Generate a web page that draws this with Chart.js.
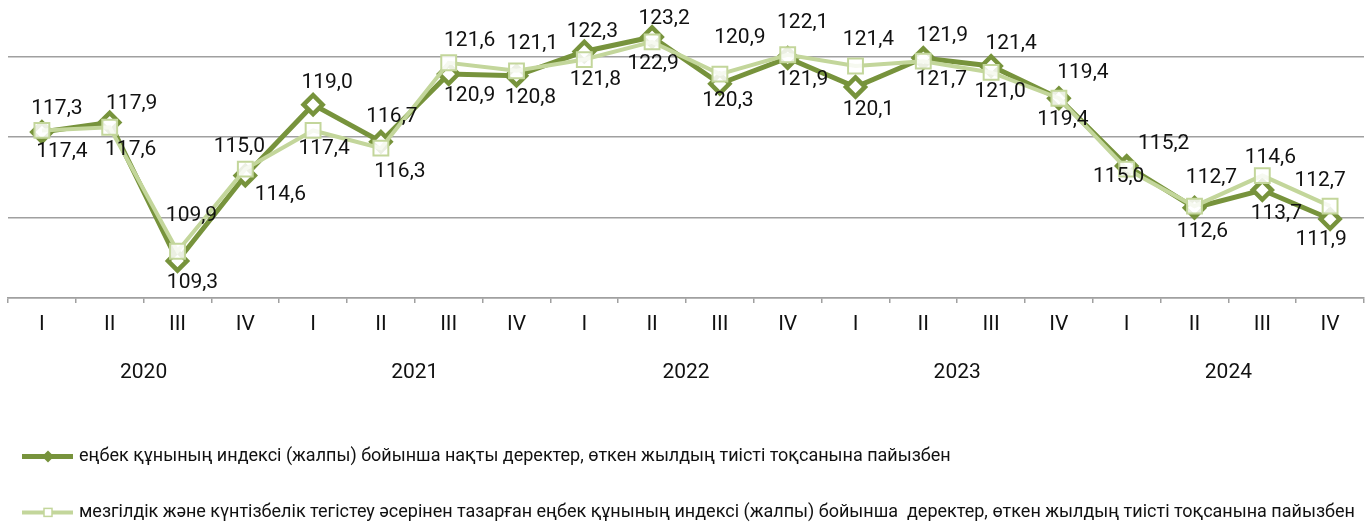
<!DOCTYPE html>
<html>
<head>
<meta charset="utf-8">
<script src="https://cdn.jsdelivr.net/npm/chart.js@4.4.0/dist/chart.umd.min.js"></script>
<style>
  html, body { margin: 0; padding: 0; background: #fff; }
  #wrap { width: 1369px; height: 523px; }
</style>
</head>
<body>
<div id="wrap"><canvas id="chart"></canvas></div>
<script>
const quarters = ['I','II','III','IV','I','II','III','IV','I','II','III','IV','I','II','III','IV','I','II','III','IV'];
const years = ['2020','2021','2022','2023','2024'];

// еңбек құнының индексі, нақты деректер
const actual = [117.3,117.9,109.3,114.6,119.0,116.7,120.9,120.8,122.3,123.2,120.3,121.9,120.1,121.9,121.4,119.4,115.2,112.6,113.7,111.9];
// маусымдық тазартылған деректер
const adjusted = [117.4,117.6,109.9,115.0,117.4,116.3,121.6,121.1,121.8,122.9,120.9,122.1,121.4,121.7,121.0,119.4,115.0,112.7,114.6,112.7];

const gridValues = [107,112,117,122];

const darkGreen = '#77933c';
const lightGreen = '#c3d69b';

// which series gets the label above the pair (0 = actual, 1 = adjusted)
const topSeries = [0,0,1,1,0,0,1,1,0,0,1,1,1,0,0,0,0,1,1,1];
// small nudges for label placement, like the hand-placed labels in the source
const topDx = [15,22,14,-6,14,11,21,16,8,12,20,15,13,19,20,24,37,17,8,-10];
const topDy = [0,3,-14,0,0,-3,0,-5,2,4,-14,-10,-4,0,0,-3,0,-6,4,-3];
const botDx = [20,21,15,35,11,19,21,14,11,1,8,15,13,18,9,4,-8,8,14,-9];
const botDy = [-2,1,0,-3,-4,2,0,0,-2,0,-5,0,1,-3,-3,0,-14,2,2,-1];

const fmt = (v) => v.toFixed(1).replace('.', ',');

const valueLabels = {
    id: 'valueLabels',
    afterDatasetsDraw(chart) {
        const ctx = chart.ctx;
        const p0 = chart.getDatasetMeta(0).data;
        const p1 = chart.getDatasetMeta(1).data;
        const sets = [actual, adjusted];
        ctx.save();
        ctx.font = '21px Roboto';
        ctx.fillStyle = '#111';
        ctx.textAlign = 'center';
        ctx.textBaseline = 'middle';
        for (let i = 0; i < quarters.length; i++) {
            const hi = Math.min(p0[i].y, p1[i].y);
            const lo = Math.max(p0[i].y, p1[i].y);
            const t = topSeries[i];
            ctx.fillText(fmt(sets[t][i]), p0[i].x + topDx[i], hi - 22 + topDy[i]);
            ctx.fillText(fmt(sets[1 - t][i]), p0[i].x + botDx[i], lo + 22 + botDy[i]);
        }
        ctx.restore();
    }
};

// legend keys: a line with the marker in the middle
const legendSamples = {
    id: 'legendSamples',
    afterDraw(chart) {
        const ctx = chart.ctx;
        const boxes = chart.legend.legendHitBoxes;
        chart.legend.legendItems.forEach((item, k) => {
            const box = boxes[k];
            const y = box.top + box.height / 2;
            const x0 = box.left, x1 = box.left + 51, xm = box.left + 26;
            ctx.save();
            if (item.datasetIndex === 0) {
                ctx.strokeStyle = darkGreen;
                ctx.lineWidth = 5;
                ctx.beginPath(); ctx.moveTo(x0, y); ctx.lineTo(x1, y); ctx.stroke();
                ctx.fillStyle = darkGreen;
                ctx.beginPath();
                ctx.moveTo(xm - 6, y); ctx.lineTo(xm, y - 6); ctx.lineTo(xm + 6, y); ctx.lineTo(xm, y + 6);
                ctx.closePath(); ctx.fill();
            } else {
                ctx.strokeStyle = lightGreen;
                ctx.lineWidth = 4;
                ctx.beginPath(); ctx.moveTo(x0, y); ctx.lineTo(x1, y); ctx.stroke();
                ctx.fillStyle = '#fff';
                ctx.lineWidth = 1.5;
                ctx.fillRect(xm - 4, y - 4, 8, 8);
                ctx.strokeRect(xm - 4, y - 4, 8, 8);
            }
            ctx.restore();
        });
    }
};

Chart.defaults.font.family = 'Roboto';
Chart.defaults.color = '#111';

new Chart(document.getElementById('chart'), {
    type: 'line',
    data: {
        labels: quarters,
        datasets: [
            {
                label: 'еңбек құнының индексі (жалпы) бойынша нақты деректер, өткен жылдың тиісті тоқсанына пайызбен',
                data: actual,
                borderColor: darkGreen,
                backgroundColor: darkGreen,
                borderWidth: 5,
                pointStyle: 'rectRot',
                pointRadius: 9.5,
                pointBorderWidth: 4.5,
                pointBackgroundColor: '#fff',
                pointBorderColor: darkGreen,
                tension: 0,
                order: 2,
            },
            {
                label: 'мезгілдік және күнтізбелік тегістеу әсерінен тазарған еңбек құнының индексі (жалпы) бойынша  деректер, өткен жылдың тиісті тоқсанына пайызбен',
                data: adjusted,
                borderColor: lightGreen,
                backgroundColor: lightGreen,
                borderWidth: 4,
                pointStyle: 'rect',
                pointRadius: 10.5,
                pointBorderWidth: 2,
                pointBackgroundColor: 'rgba(255,255,255,0.85)',
                pointBorderColor: lightGreen,
                tension: 0,
                order: 1,
            },
        ]
    },
    options: {
        responsive: true,
        maintainAspectRatio: false,
        animation: false,
        layout: { autoPadding: false, padding: { left: 8, right: 5, top: 8, bottom: 0 } },
        scales: {
            x: {
                offset: true,
                grid: { offset: true, drawOnChartArea: false, tickLength: 5, color: '#a0a0a0', lineWidth: 1.5 },
                border: { color: '#a0a0a0', width: 1.5 },
                ticks: { font: { size: 21 }, padding: 9.5, color: '#111', maxRotation: 0, autoSkip: false },
            },
            x2: {
                type: 'category',
                position: 'bottom',
                labels: years,
                offset: true,
                grid: { display: false, drawTicks: false },
                border: { display: false },
                ticks: { font: { size: 21 }, padding: 13.3, color: '#111', maxRotation: 0 },
            },
            y: {
                min: 107,
                max: 125,
                afterBuildTicks: (axis) => { axis.ticks = gridValues.map(v => ({ value: v })); },
                ticks: { display: false },
                grid: { drawTicks: false, color: '#a0a0a0', lineWidth: 1.5 },
                border: { display: false },
            }
        },
        plugins: {
            tooltip: { enabled: false },
            legend: {
                position: 'bottom',
                align: 'start',
                maxHeight: 124,
                title: { display: true, text: '', padding: { top: 8, bottom: 0 } },
                labels: {
                    font: { size: 18 },
                    color: '#111',
                    boxWidth: 48,
                    boxHeight: 42,
                    padding: 14,
                    sort: (a, b) => a.datasetIndex - b.datasetIndex,
                    generateLabels: (chart) => {
                        const items = Chart.defaults.plugins.legend.labels.generateLabels(chart);
                        items.forEach(it => {
                            it.fillStyle = 'rgba(0,0,0,0)';
                            it.strokeStyle = 'rgba(0,0,0,0)';
                            it.lineWidth = 0;
                        });
                        return items;
                    }
                }
            }
        }
    },
    plugins: [valueLabels, legendSamples]
});
</script>
</body>
</html>
